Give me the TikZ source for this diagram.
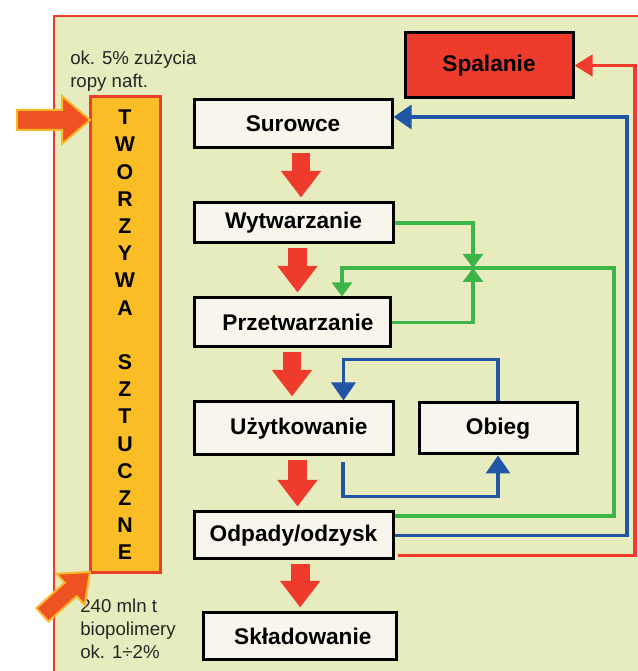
\documentclass[tikz,border=0pt]{standalone}
\usepackage{fontspec}
\setmainfont{Liberation Sans}
\usetikzlibrary{arrows.meta,calc}

\definecolor{bggreen}{HTML}{E7ECBE}
\definecolor{framered}{HTML}{EE3B2B}
\definecolor{flowred}{HTML}{EE3B2B}
\definecolor{boxfill}{HTML}{F8F5EC}
\definecolor{plastic}{HTML}{FBBD26}
\definecolor{lgreen}{HTML}{3DB54A}
\definecolor{lblue}{HTML}{2155A5}
\definecolor{inorange}{HTML}{EE5222}
\definecolor{inyellow}{HTML}{FBB829}

\begin{document}
\begin{tikzpicture}[
  x=0.75pt, y=0.75pt,
  stagebox/.style={draw=black,line width=2.25pt,fill=boxfill,inner sep=0pt,font=\bfseries\fontsize{17}{19}\selectfont},
  flow/.style={flowred,line width=14pt,-{Triangle[width=29pt,length=20pt]},shorten <=3pt,shorten >=3pt},
  gline/.style={lgreen,line width=2.4pt,-{Triangle[width=15pt,length=10.5pt]}},
  bline/.style={lblue,line width=2.4pt,-{Triangle[width=18pt,length=13.5pt]}},
  rline/.style={framered,line width=2.4pt,-{Triangle[width=16pt,length=13.5pt]}},
  note/.style={align=left,anchor=north west,inner sep=0pt,text=black!85,font=\fontsize{14}{17.3}\selectfont}
]
  \useasboundingbox (0,0) rectangle (637,671);
  \fill[white] (0,0) rectangle (637,671);
  \filldraw[fill=bggreen,draw=framered,line width=2pt] (54,-10) rectangle (650,655);

  % stages
  \node[stagebox,fill=framered,minimum width=126pt,minimum height=48.75pt] (spal) at (489,605.5) {Spalanie};
  \node[stagebox,minimum width=148.5pt,minimum height=36pt] (sur) at (293,547) {Surowce};
  \node[stagebox,minimum width=149.25pt,minimum height=30pt] (wyt) at (293.5,448) {Wytwarzanie};
  \node[stagebox,minimum width=147pt,minimum height=36.75pt] (prz) at (292,348.5) {\hspace{9pt}Przetwarzanie};
  \node[stagebox,minimum width=149.25pt,minimum height=39.75pt] (uzy) at (293.5,242.5) {\hspace{8pt}Użytkowanie};
  \node[stagebox,minimum width=118.5pt,minimum height=38.25pt] (obi) at (498,242.5) {Obieg};
  \node[stagebox,minimum width=149.25pt,minimum height=35.25pt] (odp) at (293.5,135.5) {Odpady/odzysk};
  \node[stagebox,minimum width=144.75pt,minimum height=35.25pt] (skl) at (299.5,34.5) {\hspace{5pt}Składowanie};

  % tworzywa sztuczne
  \node[draw=framered,fill=plastic,line width=2.25pt,minimum width=52.5pt,minimum height=357pt,
        align=center,font=\bfseries\fontsize{16}{20.4}\selectfont] (tw) at (125,336)
    {T\\W\\O\\R\\Z\\Y\\W\\A\\[20.4pt]S\\Z\\T\\U\\C\\Z\\N\\E};

  \node[note] (top) at (70,620) {ok. 5\% zużycia\\ropy naft.};
  \node[note] (bot) at (80,72) {240 mln t\\biopolimery\\ok. 1÷2\%};

  % inflow arrows
  \filldraw[fill=inorange,draw=inyellow,line width=1.5pt]
    (17,541) -- (62,541) -- (62,527) -- (90,551) -- (62,575) -- (62,561) -- (17,561) -- cycle;
  \begin{scope}[shift={(90,99)},rotate=42]
    \filldraw[fill=inorange,draw=inyellow,line width=1.5pt]
      (-64,-9) -- (-26,-9) -- (-26,-21) -- (0,0) -- (-26,21) -- (-26,9) -- (-64,9) -- cycle;
  \end{scope}

  % main flow
  \draw[flow] ([xshift=6pt]sur.south) -- ([xshift=6pt]sur.south |- wyt.north);
  \draw[flow] ([xshift=3pt]wyt.south) -- ([xshift=3pt]wyt.south |- prz.north);
  \draw[flow] ([xshift=0pt]prz.south) -- ([xshift=0pt]prz.south |- uzy.north);
  \draw[flow] ([xshift=3pt]uzy.south) -- ([xshift=3pt]uzy.south |- odp.north);
  \draw[flow] ([xshift=5pt]odp.south) -- ([xshift=5pt]odp.south |- skl.north);

  % green loops
  \coordinate (gj) at (473,403);
  \coordinate (gc) at (614,403);
  \draw[gline] (wyt.east) -| (gj);
  \draw[gline] (prz.east) -| (gj);
  \draw[gline] ($(odp.east)+(0,19.5)$) -| (gc) -| ($(prz.north)+(50,0)$);

  % blue loops
  \coordinate (bc) at (627,554);
  \draw[bline] (odp.east) -| (bc) -- ($(sur.east)+(0,7)$);
  \draw[bline] ($(uzy.south)+(49.5,-6)$) -- ++(0,-34) -| (obi.south);
  \draw[bline] (obi.north) -- ++(0,42) -| ($(uzy.north)+(50,0)$);

  % red loop
  \coordinate (rc) at (635,605.5);
  \draw[rline] ($(odp.east)+(3,-20)$) -| (rc) -- (spal.east);
\end{tikzpicture}
\end{document}
